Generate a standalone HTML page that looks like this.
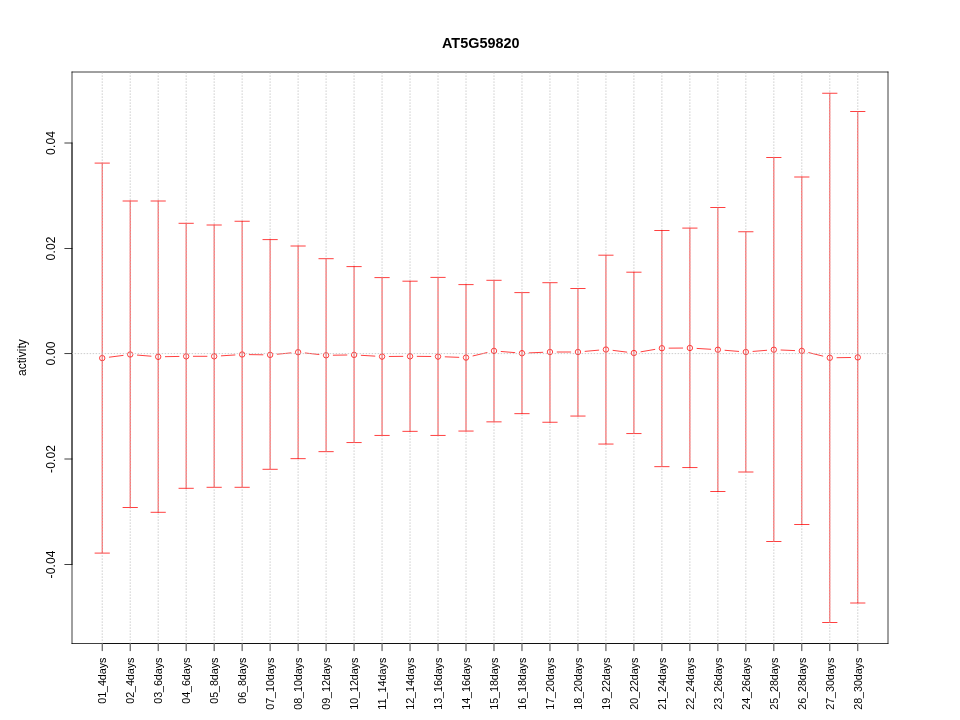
<!DOCTYPE html><html><head><meta charset="utf-8"><style>html,body{margin:0;padding:0;background:#fff;}svg{display:block;will-change:transform;}text{font-family:"Liberation Sans",sans-serif;}</style></head><body>
<svg width="960" height="720" viewBox="0 0 960 720">
<defs><clipPath id="pc"><rect x="72" y="72" width="817" height="572.4"/></clipPath></defs>
<rect width="960" height="720" fill="#fff"/>
<path d="M72.0 72.0H888.0M888.0 72.0V643.5M72.0 643.5H888.0M72.0 72.0V643.5" stroke="#000" stroke-width="0.75" stroke-linecap="round" stroke-linejoin="round" fill="none"/>
<path d="M72.0 143.000V564.500M64.8 143.000H72.0M64.8 248.500H72.0M64.8 353.550H72.0M64.8 459.000H72.0M64.8 564.500H72.0M102.22 643.5H857.78M102.22 643.5v7.2M130.21 643.5v7.2M158.19 643.5v7.2M186.17 643.5v7.2M214.16 643.5v7.2M242.14 643.5v7.2M270.12 643.5v7.2M298.11 643.5v7.2M326.09 643.5v7.2M354.07 643.5v7.2M382.06 643.5v7.2M410.04 643.5v7.2M438.02 643.5v7.2M466.01 643.5v7.2M493.99 643.5v7.2M521.98 643.5v7.2M549.96 643.5v7.2M577.94 643.5v7.2M605.93 643.5v7.2M633.91 643.5v7.2M661.89 643.5v7.2M689.88 643.5v7.2M717.86 643.5v7.2M745.84 643.5v7.2M773.83 643.5v7.2M801.81 643.5v7.2M829.79 643.5v7.2M857.78 643.5v7.2" stroke="#000" stroke-width="0.75" stroke-linecap="round" stroke-linejoin="round" fill="none"/>
<path d="M109.36 357.18L123.06 355.42M137.38 355.09L151.01 356.21M165.39 356.67L178.97 356.43M193.37 356.30L206.96 356.30M221.34 355.84L234.95 354.96M249.34 354.60L262.92 354.80M277.29 354.21L290.94 352.89M305.26 352.99L318.93 354.51M333.29 355.20L346.87 355.00M361.26 355.32L374.87 356.13M389.26 356.49L402.84 356.36M417.24 356.36L430.82 356.49M445.22 356.82L458.81 357.33M473.01 355.92L486.99 352.58M501.17 351.49L514.80 352.61M529.17 352.89L542.77 352.31M557.16 352.00L570.74 352.00M585.11 351.36L598.75 350.14M613.07 350.39L626.77 352.11M641.01 351.78L654.80 349.42M669.09 348.15L682.68 348.05M697.06 348.44L710.67 349.26M725.04 350.29L738.67 351.41M753.02 351.41L766.65 350.29M781.02 350.01L794.62 350.59M808.80 352.62L822.80 356.08M836.99 357.70L850.58 357.50" stroke="#ff0000" stroke-width="0.75" stroke-linecap="round" stroke-linejoin="round" fill="none"/>
<path d="M99.52 358.10a2.7 2.7 0 1 0 5.4 0a2.7 2.7 0 1 0 -5.4 0Z" stroke="#ff0000" stroke-width="0.75" fill="none"/>
<path d="M127.51 354.50a2.7 2.7 0 1 0 5.4 0a2.7 2.7 0 1 0 -5.4 0Z" stroke="#ff0000" stroke-width="0.75" fill="none"/>
<path d="M155.49 356.80a2.7 2.7 0 1 0 5.4 0a2.7 2.7 0 1 0 -5.4 0Z" stroke="#ff0000" stroke-width="0.75" fill="none"/>
<path d="M183.47 356.30a2.7 2.7 0 1 0 5.4 0a2.7 2.7 0 1 0 -5.4 0Z" stroke="#ff0000" stroke-width="0.75" fill="none"/>
<path d="M211.46 356.30a2.7 2.7 0 1 0 5.4 0a2.7 2.7 0 1 0 -5.4 0Z" stroke="#ff0000" stroke-width="0.75" fill="none"/>
<path d="M239.44 354.50a2.7 2.7 0 1 0 5.4 0a2.7 2.7 0 1 0 -5.4 0Z" stroke="#ff0000" stroke-width="0.75" fill="none"/>
<path d="M267.42 354.90a2.7 2.7 0 1 0 5.4 0a2.7 2.7 0 1 0 -5.4 0Z" stroke="#ff0000" stroke-width="0.75" fill="none"/>
<path d="M295.41 352.20a2.7 2.7 0 1 0 5.4 0a2.7 2.7 0 1 0 -5.4 0Z" stroke="#ff0000" stroke-width="0.75" fill="none"/>
<path d="M323.39 355.30a2.7 2.7 0 1 0 5.4 0a2.7 2.7 0 1 0 -5.4 0Z" stroke="#ff0000" stroke-width="0.75" fill="none"/>
<path d="M351.37 354.90a2.7 2.7 0 1 0 5.4 0a2.7 2.7 0 1 0 -5.4 0Z" stroke="#ff0000" stroke-width="0.75" fill="none"/>
<path d="M379.36 356.55a2.7 2.7 0 1 0 5.4 0a2.7 2.7 0 1 0 -5.4 0Z" stroke="#ff0000" stroke-width="0.75" fill="none"/>
<path d="M407.34 356.30a2.7 2.7 0 1 0 5.4 0a2.7 2.7 0 1 0 -5.4 0Z" stroke="#ff0000" stroke-width="0.75" fill="none"/>
<path d="M435.32 356.55a2.7 2.7 0 1 0 5.4 0a2.7 2.7 0 1 0 -5.4 0Z" stroke="#ff0000" stroke-width="0.75" fill="none"/>
<path d="M463.31 357.60a2.7 2.7 0 1 0 5.4 0a2.7 2.7 0 1 0 -5.4 0Z" stroke="#ff0000" stroke-width="0.75" fill="none"/>
<path d="M491.29 350.90a2.7 2.7 0 1 0 5.4 0a2.7 2.7 0 1 0 -5.4 0Z" stroke="#ff0000" stroke-width="0.75" fill="none"/>
<path d="M519.28 353.20a2.7 2.7 0 1 0 5.4 0a2.7 2.7 0 1 0 -5.4 0Z" stroke="#ff0000" stroke-width="0.75" fill="none"/>
<path d="M547.26 352.00a2.7 2.7 0 1 0 5.4 0a2.7 2.7 0 1 0 -5.4 0Z" stroke="#ff0000" stroke-width="0.75" fill="none"/>
<path d="M575.24 352.00a2.7 2.7 0 1 0 5.4 0a2.7 2.7 0 1 0 -5.4 0Z" stroke="#ff0000" stroke-width="0.75" fill="none"/>
<path d="M603.23 349.50a2.7 2.7 0 1 0 5.4 0a2.7 2.7 0 1 0 -5.4 0Z" stroke="#ff0000" stroke-width="0.75" fill="none"/>
<path d="M631.21 353.00a2.7 2.7 0 1 0 5.4 0a2.7 2.7 0 1 0 -5.4 0Z" stroke="#ff0000" stroke-width="0.75" fill="none"/>
<path d="M659.19 348.20a2.7 2.7 0 1 0 5.4 0a2.7 2.7 0 1 0 -5.4 0Z" stroke="#ff0000" stroke-width="0.75" fill="none"/>
<path d="M687.18 348.00a2.7 2.7 0 1 0 5.4 0a2.7 2.7 0 1 0 -5.4 0Z" stroke="#ff0000" stroke-width="0.75" fill="none"/>
<path d="M715.16 349.70a2.7 2.7 0 1 0 5.4 0a2.7 2.7 0 1 0 -5.4 0Z" stroke="#ff0000" stroke-width="0.75" fill="none"/>
<path d="M743.14 352.00a2.7 2.7 0 1 0 5.4 0a2.7 2.7 0 1 0 -5.4 0Z" stroke="#ff0000" stroke-width="0.75" fill="none"/>
<path d="M771.13 349.70a2.7 2.7 0 1 0 5.4 0a2.7 2.7 0 1 0 -5.4 0Z" stroke="#ff0000" stroke-width="0.75" fill="none"/>
<path d="M799.11 350.90a2.7 2.7 0 1 0 5.4 0a2.7 2.7 0 1 0 -5.4 0Z" stroke="#ff0000" stroke-width="0.75" fill="none"/>
<path d="M827.09 357.80a2.7 2.7 0 1 0 5.4 0a2.7 2.7 0 1 0 -5.4 0Z" stroke="#ff0000" stroke-width="0.75" fill="none"/>
<path d="M855.08 357.40a2.7 2.7 0 1 0 5.4 0a2.7 2.7 0 1 0 -5.4 0Z" stroke="#ff0000" stroke-width="0.75" fill="none"/>
<path d="M102.22 163.10V553.10M95.02 163.10H109.42M95.02 553.10H109.42M130.21 201.00V507.50M123.01 201.00H137.41M123.01 507.50H137.41M158.19 201.00V512.30M150.99 201.00H165.39M150.99 512.30H165.39M186.17 223.30V488.30M178.97 223.30H193.37M178.97 488.30H193.37M214.16 225.00V487.30M206.96 225.00H221.36M206.96 487.30H221.36M242.14 221.25V487.30M234.94 221.25H249.34M234.94 487.30H249.34M270.12 239.60V469.30M262.92 239.60H277.32M262.92 469.30H277.32M298.11 246.00V458.65M290.91 246.00H305.31M290.91 458.65H305.31M326.09 258.70V451.65M318.89 258.70H333.29M318.89 451.65H333.29M354.07 266.60V442.55M346.87 266.60H361.27M346.87 442.55H361.27M382.06 277.60V435.45M374.86 277.60H389.26M374.86 435.45H389.26M410.04 281.20V431.35M402.84 281.20H417.24M402.84 431.35H417.24M438.02 277.40V435.45M430.82 277.40H445.22M430.82 435.45H445.22M466.01 284.60V431.05M458.81 284.60H473.21M458.81 431.05H473.21M493.99 280.30V421.85M486.79 280.30H501.19M486.79 421.85H501.19M521.98 292.60V413.65M514.78 292.60H529.18M514.78 413.65H529.18M549.96 282.70V422.25M542.76 282.70H557.16M542.76 422.25H557.16M577.94 288.50V416.05M570.74 288.50H585.14M570.74 416.05H585.14M605.93 255.20V444.05M598.73 255.20H613.13M598.73 444.05H613.13M633.91 272.20V433.55M626.71 272.20H641.11M626.71 433.55H641.11M661.89 230.50V466.65M654.69 230.50H669.09M654.69 466.65H669.09M689.88 228.10V467.55M682.68 228.10H697.08M682.68 467.55H697.08M717.86 207.50V491.50M710.66 207.50H725.06M710.66 491.50H725.06M745.84 231.75V472.00M738.64 231.75H753.04M738.64 472.00H753.04M773.83 157.50V541.50M766.63 157.50H781.03M766.63 541.50H781.03M801.81 177.00V524.50M794.61 177.00H809.01M794.61 524.50H809.01M829.79 93.25V622.50M822.59 93.25H836.99M822.59 622.50H836.99M857.78 111.50V603.00M850.58 111.50H864.98M850.58 603.00H864.98" stroke="#ff0000" stroke-width="0.75" stroke-linecap="round" stroke-linejoin="round" fill="none"/>
<path clip-path="url(#pc)" d="M102.22 66.775V648M130.21 66.775V648M158.19 66.775V648M186.17 66.775V648M214.16 66.775V648M242.14 66.775V648M270.12 66.775V648M298.11 66.775V648M326.09 66.775V648M354.07 66.775V648M382.06 66.775V648M410.04 66.775V648M438.02 66.775V648M466.01 66.775V648M493.99 66.775V648M521.98 66.775V648M549.96 66.775V648M577.94 66.775V648M605.93 66.775V648M633.91 66.775V648M661.89 66.775V648M689.88 66.775V648M717.86 66.775V648M745.84 66.775V648M773.83 66.775V648M801.81 66.775V648M829.79 66.775V648M857.78 66.775V648M69.025 353.6H892" stroke="#bebebe" stroke-width="0.75" stroke-linecap="round" stroke-linejoin="round" fill="none" stroke-dasharray="0.75 2.25"/>
<text transform="translate(54.9 143.00) rotate(-90)" text-anchor="middle" font-size="12" textLength="24" lengthAdjust="spacing">0.04</text>
<text transform="translate(54.9 248.50) rotate(-90)" text-anchor="middle" font-size="12" textLength="24" lengthAdjust="spacing">0.02</text>
<text transform="translate(54.9 353.55) rotate(-90)" text-anchor="middle" font-size="12" textLength="24" lengthAdjust="spacing">0.00</text>
<text transform="translate(54.9 459.00) rotate(-90)" text-anchor="middle" font-size="12" textLength="28" lengthAdjust="spacing">-0.02</text>
<text transform="translate(54.9 564.50) rotate(-90)" text-anchor="middle" font-size="12" textLength="28" lengthAdjust="spacing">-0.04</text>
<text transform="translate(106.12 657.7) rotate(-90)" text-anchor="end" font-size="10.8" textLength="46" lengthAdjust="spacing">01_4days</text>
<text transform="translate(134.11 657.7) rotate(-90)" text-anchor="end" font-size="10.8" textLength="46" lengthAdjust="spacing">02_4days</text>
<text transform="translate(162.09 657.7) rotate(-90)" text-anchor="end" font-size="10.8" textLength="46" lengthAdjust="spacing">03_6days</text>
<text transform="translate(190.07 657.7) rotate(-90)" text-anchor="end" font-size="10.8" textLength="46" lengthAdjust="spacing">04_6days</text>
<text transform="translate(218.06 657.7) rotate(-90)" text-anchor="end" font-size="10.8" textLength="46" lengthAdjust="spacing">05_8days</text>
<text transform="translate(246.04 657.7) rotate(-90)" text-anchor="end" font-size="10.8" textLength="46" lengthAdjust="spacing">06_8days</text>
<text transform="translate(274.02 657.7) rotate(-90)" text-anchor="end" font-size="10.8" textLength="52" lengthAdjust="spacing">07_10days</text>
<text transform="translate(302.01 657.7) rotate(-90)" text-anchor="end" font-size="10.8" textLength="52" lengthAdjust="spacing">08_10days</text>
<text transform="translate(329.99 657.7) rotate(-90)" text-anchor="end" font-size="10.8" textLength="52" lengthAdjust="spacing">09_12days</text>
<text transform="translate(357.97 657.7) rotate(-90)" text-anchor="end" font-size="10.8" textLength="52" lengthAdjust="spacing">10_12days</text>
<text transform="translate(385.96 657.7) rotate(-90)" text-anchor="end" font-size="10.8" textLength="52" lengthAdjust="spacing">11_14days</text>
<text transform="translate(413.94 657.7) rotate(-90)" text-anchor="end" font-size="10.8" textLength="52" lengthAdjust="spacing">12_14days</text>
<text transform="translate(441.92 657.7) rotate(-90)" text-anchor="end" font-size="10.8" textLength="52" lengthAdjust="spacing">13_16days</text>
<text transform="translate(469.91 657.7) rotate(-90)" text-anchor="end" font-size="10.8" textLength="52" lengthAdjust="spacing">14_16days</text>
<text transform="translate(497.89 657.7) rotate(-90)" text-anchor="end" font-size="10.8" textLength="52" lengthAdjust="spacing">15_18days</text>
<text transform="translate(525.88 657.7) rotate(-90)" text-anchor="end" font-size="10.8" textLength="52" lengthAdjust="spacing">16_18days</text>
<text transform="translate(553.86 657.7) rotate(-90)" text-anchor="end" font-size="10.8" textLength="52" lengthAdjust="spacing">17_20days</text>
<text transform="translate(581.84 657.7) rotate(-90)" text-anchor="end" font-size="10.8" textLength="52" lengthAdjust="spacing">18_20days</text>
<text transform="translate(609.83 657.7) rotate(-90)" text-anchor="end" font-size="10.8" textLength="52" lengthAdjust="spacing">19_22days</text>
<text transform="translate(637.81 657.7) rotate(-90)" text-anchor="end" font-size="10.8" textLength="52" lengthAdjust="spacing">20_22days</text>
<text transform="translate(665.79 657.7) rotate(-90)" text-anchor="end" font-size="10.8" textLength="52" lengthAdjust="spacing">21_24days</text>
<text transform="translate(693.78 657.7) rotate(-90)" text-anchor="end" font-size="10.8" textLength="52" lengthAdjust="spacing">22_24days</text>
<text transform="translate(721.76 657.7) rotate(-90)" text-anchor="end" font-size="10.8" textLength="52" lengthAdjust="spacing">23_26days</text>
<text transform="translate(749.74 657.7) rotate(-90)" text-anchor="end" font-size="10.8" textLength="52" lengthAdjust="spacing">24_26days</text>
<text transform="translate(777.73 657.7) rotate(-90)" text-anchor="end" font-size="10.8" textLength="52" lengthAdjust="spacing">25_28days</text>
<text transform="translate(805.71 657.7) rotate(-90)" text-anchor="end" font-size="10.8" textLength="52" lengthAdjust="spacing">26_28days</text>
<text transform="translate(833.69 657.7) rotate(-90)" text-anchor="end" font-size="10.8" textLength="52" lengthAdjust="spacing">27_30days</text>
<text transform="translate(861.68 657.7) rotate(-90)" text-anchor="end" font-size="10.8" textLength="52" lengthAdjust="spacing">28_30days</text>
<text transform="translate(26.3 357.6) rotate(-90)" text-anchor="middle" font-size="12">activity</text>
<text x="480.8" y="48" text-anchor="middle" font-size="14.4" font-weight="bold" textLength="77.6" lengthAdjust="spacing">AT5G59820</text>
</svg></body></html>
